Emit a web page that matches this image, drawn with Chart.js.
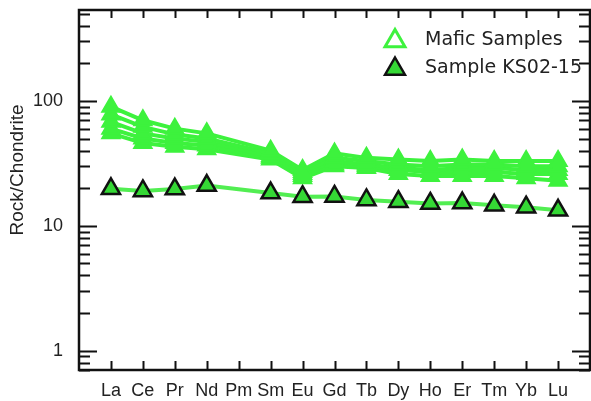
<!DOCTYPE html>
<html>
<head>
<meta charset="utf-8">
<script src="https://cdn.jsdelivr.net/npm/chart.js@4.4.1/dist/chart.umd.min.js"></script>
<style>
  html, body { margin: 0; padding: 0; background: #fff; }
  #wrap { width: 591px; height: 401px; }
</style>
</head>
<body>
<div id="wrap"><canvas id="ree" width="591" height="401"></canvas></div>
<script>
// REE pattern, chondrite normalised
const elements = ['La', 'Ce', 'Pr', 'Nd', 'Pm', 'Sm', 'Eu', 'Gd', 'Tb', 'Dy', 'Ho', 'Er', 'Tm', 'Yb', 'Lu'];
const mafic1 = [90, 70, 60, 55, null, 40, 28, 38, 35, 34, 33, 34, 33, 33, 33];
const mafic2 = [78, 62, 54, 50, null, 38, 27, 35, 33, 31, 30, 31, 31, 30, 30];
const mafic3 = [68, 55, 50, 47, null, 36, 26, 33, 31, 29, 28, 29, 29, 28, 28];
const mafic4 = [60, 50, 46, 44, null, 35, 25, 31, 30, 28, 27, 27, 27, 26, 26];
const mafic5 = [55, 46, 43, 41, null, 34, 24, 30, 29, 26, 25, 25, 25, 24, 23];
const ks0215 = [19.8, 19.0, 19.7, 21.0, null, 18.3, 17.1, 17.2, 16.1, 15.6, 15.1, 15.2, 14.6, 14.1, 13.3];
const yLabels = [1, 10, 100];
const yTitle = 'Rock/Chondrite';

const GREEN = '#3df23d';

function toPoints(vals) {
    return vals.map((v, i) => ({ x: i, y: v }));
}

function maficSet(vals) {
    return {
        label: 'Mafic Samples',
        data: toPoints(vals),
        borderColor: GREEN,
        borderWidth: 4,
        pointStyle: 'triangle',
        pointRadius: 10,
        pointBackgroundColor: GREEN,
        pointBorderColor: GREEN,
        pointBorderWidth: 2,
        spanGaps: true
    };
}

// frame + inward ticks on all four sides
const frameTicks = {
    id: 'frameTicks',
    afterDatasetsDraw(chart) {
        const { ctx, chartArea: a, scales: { x, y } } = chart;
        ctx.save();
        ctx.strokeStyle = '#111';
        ctx.lineWidth = 2;
        ctx.beginPath();
        elements.forEach((e, i) => {
            const px = Math.round(x.getPixelForValue(i)) + 0.5;
            ctx.moveTo(px, a.bottom); ctx.lineTo(px, a.bottom - 9);
            ctx.moveTo(px, a.top); ctx.lineTo(px, a.top + 8);
        });
        for (let e = -1; e <= 3; e++) {
            for (let m = 1; m <= 9; m++) {
                const v = m * Math.pow(10, e);
                if (v < y.min || v > y.max) continue;
                const py = Math.round(y.getPixelForValue(v)) + 0.5;
                const len = m === 1 ? 18 : 11;
                ctx.moveTo(a.left, py); ctx.lineTo(a.left + len, py);
                ctx.moveTo(a.right, py); ctx.lineTo(a.right - len, py);
            }
        }
        ctx.stroke();
        ctx.lineWidth = 2.5;
        ctx.strokeRect(a.left, a.top, a.right - a.left, a.bottom - a.top);

        // axis title, sits a bit above the middle like the original
        ctx.translate(18, 170);
        ctx.rotate(-Math.PI / 2);
        ctx.fillStyle = '#222';
        ctx.font = '19px "Liberation Sans", Arial, sans-serif';
        ctx.textAlign = 'center';
        ctx.textBaseline = 'middle';
        ctx.fillText(yTitle, 0, 0);
        ctx.restore();
    }
};

function triangle(ctx, cx, cy, r) {
    ctx.beginPath();
    ctx.moveTo(cx, cy - r);
    ctx.lineTo(cx + 0.866 * r, cy + 0.5 * r);
    ctx.lineTo(cx - 0.866 * r, cy + 0.5 * r);
    ctx.closePath();
}

// legend in the upper right corner of the plot
const legendBox = {
    id: 'legendBox',
    afterDraw(chart) {
        const ctx = chart.ctx;
        const ds = chart.data.datasets;
        const items = [
            { text: ds[0].label, fill: '#fff', stroke: GREEN, lw: 3, y: 41 },
            { text: ds[5].label, fill: ds[5].pointBackgroundColor, stroke: ds[5].pointBorderColor, lw: ds[5].pointBorderWidth, y: 69 }
        ];
        ctx.save();
        items.forEach((it) => {
            triangle(ctx, 395, it.y, 11.5);
            ctx.fillStyle = it.fill;
            ctx.fill();
            ctx.lineWidth = it.lw;
            ctx.strokeStyle = it.stroke;
            ctx.stroke();
            ctx.fillStyle = '#222';
            ctx.font = '19px "DejaVu Sans"';
            ctx.textBaseline = 'middle';
            ctx.textAlign = 'left';
            ctx.fillText(it.text, 425, it.y - 1);
        });
        ctx.restore();
    }
};

Chart.defaults.font.family = '"Liberation Sans", Arial, sans-serif';
Chart.defaults.font.size = 18;
Chart.defaults.color = '#222';

new Chart(document.getElementById('ree'), {
    type: 'line',
    data: {
        datasets: [
            maficSet(mafic1),
            maficSet(mafic2),
            maficSet(mafic3),
            maficSet(mafic4),
            maficSet(mafic5),
            {
                label: 'Sample KS02-15',
                data: toPoints(ks0215),
                borderColor: '#52ee52',
                borderWidth: 4,
                pointStyle: 'triangle',
                pointRadius: 10.5,
                pointBackgroundColor: '#35d835',
                pointBorderColor: '#111',
                pointBorderWidth: 2.5,
                spanGaps: true
            }
        ]
    },
    options: {
        responsive: false,
        animation: false,
        layout: {
            autoPadding: false,
            padding: { top: 10, right: 1, left: 0, bottom: 0 }
        },
        plugins: {
            legend: { display: false },
            tooltip: { enabled: false }
        },
        scales: {
            x: {
                type: 'linear',
                min: -1,
                max: 15,
                grid: { display: false },
                border: { display: false },
                afterFit: (s) => { s.height = 31; s.paddingLeft = 0; s.paddingRight = 0; },
                ticks: {
                    stepSize: 1,
                    autoSkip: false,
                    maxRotation: 0,
                    padding: 2,
                    callback: (v) => elements[v] || ''
                }
            },
            y: {
                type: 'logarithmic',
                min: 0.705,
                max: 535,
                grid: { display: false },
                border: { display: false },
                afterFit: (s) => { s.width = 79; s.paddingTop = 0; s.paddingBottom = 0; },
                afterBuildTicks: (s) => { s.ticks = yLabels.map((v) => ({ value: v })); },
                ticks: {
                    padding: 8,
                    callback: (v) => String(v)
                }
            }
        }
    },
    plugins: [frameTicks, legendBox]
});
</script>
</body>
</html>
